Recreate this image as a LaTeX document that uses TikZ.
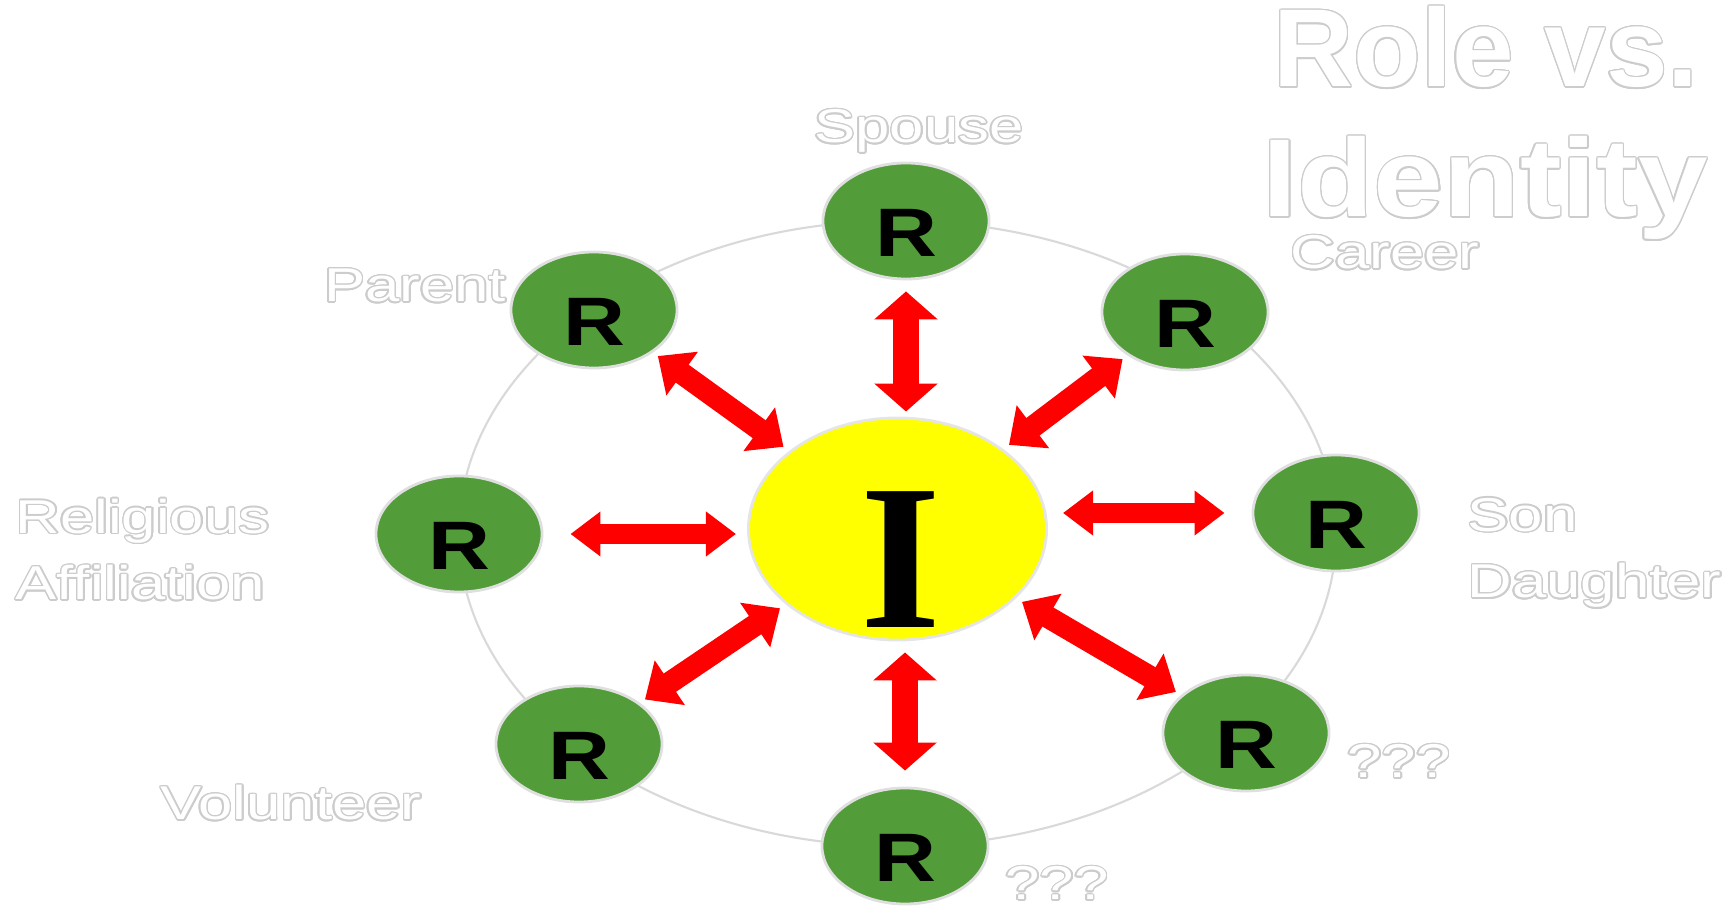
\documentclass[tikz,border=0pt]{standalone}
\usepackage{fontspec}
\setmainfont{Liberation Sans}
\newfontfamily\bigserif{Liberation Serif}
\usepackage{graphicx}
\usepackage{contour}
\contourlength{0.35pt}
\contournumber{20}
\usetikzlibrary{arrows.meta,shapes.geometric,positioning}

\definecolor{rolegreen}{HTML}{529D3A}
\definecolor{selfyellow}{HTML}{FFFF00}
\definecolor{linkred}{HTML}{FF0000}
\newcommand{\ghost}[2][1.3]{\scalebox{#1}[1]{\contour{gray!40}{#2}}}

\begin{document}
\begin{tikzpicture}[x=0.01cm, y=-0.01cm,
        role/.style = {ellipse, draw=gray!25, line width=0.8pt, fill=rolegreen, minimum width=1.66cm, minimum height=1.16cm, inner sep=0pt, font=\fontsize{19.5}{20}\selectfont\bfseries, text height=0.71cm, text depth=0pt},
        self/.style = {ellipse, draw=gray!20, line width=0.8pt, fill=selfyellow, minimum width=2.98cm, minimum height=2.22cm, inner sep=0pt},
        tag/.style = {text=white, inner sep=0pt, anchor=base, font=\fontsize{13.5}{19}\selectfont},
        headline/.style = {text=white, inner sep=0pt, anchor=base west, font=\fontsize{31.5}{36}\selectfont\bfseries},
        ring/.style = {draw=gray!30, line width=0.6pt},
        link/.style = {draw=linkred, line width=0.22cm, {Triangle[width=0.52cm,length=0.3cm]}-{Triangle[width=0.52cm,length=0.3cm]}, shorten <=0.07cm, shorten >=0.06cm},
        vlink/.style = {link, line width=0.26cm, {Triangle[width=0.62cm,length=0.28cm]}-{Triangle[width=0.62cm,length=0.28cm]}, shorten <=0.05cm, shorten >=0.11cm},
        hlink/.style = {link, line width=0.2cm, {Triangle[width=0.43cm,length=0.3cm]}-{Triangle[width=0.43cm,length=0.3cm]}, shorten <=0.12cm, shorten >=0.27cm},
        ]
        \useasboundingbox (0,0) rectangle (1729,907);
        \draw[ring] (897.5,533.5) ellipse [x radius=4.385cm, y radius=3.125cm];

        % identity in the middle
        \node[self](self) at (897.5,529) {};
        \node[anchor=base, inner sep=0pt, font=\fontsize{59}{60}\bigserif\bfseries](letter) at (901,628) {I};

        % roles round it
        \node[role](spouse) at (906,221) {\scalebox{1.25}[1]{R}};
        \node[role](career) at (1185,312) {\scalebox{1.25}[1]{R}};
        \node[role](child) at (1336,513) {\scalebox{1.25}[1]{R}};
        \node[role](otherA) at (1246,733) {\scalebox{1.25}[1]{R}};
        \node[role](otherB) at (905,846) {\scalebox{1.25}[1]{R}};
        \node[role](volunteer) at (579,744) {\scalebox{1.25}[1]{R}};
        \node[role](faith) at (459,534) {\scalebox{1.25}[1]{R}};
        \node[role](parent) at (594,310) {\scalebox{1.25}[1]{R}};

        \draw[vlink] (spouse |- self.north) -- (spouse);
        \draw[link] (self) -- (career);
        \draw[hlink, shorten <=0.15cm] (child -| self.east) -- (child);
        \draw[link] (self) -- (otherA);
        \draw[vlink, shorten <=0.11cm, shorten >=0.16cm] (otherB |- self.south) -- (otherB);
        \draw[link] (self) -- (volunteer);
        \draw[hlink, shorten <=0.11cm] (faith -| self.west) -- (faith);
        \draw[link] (self) -- (parent);

        % role names
        \node[tag](lspouse) at (919,143) {\ghost{Spouse}};
        \node[tag](lparent) at (415,302) {\ghost{Parent}};
        \node[tag](lcareer) at (1385,269) {\ghost{Career}};
        \node[tag, anchor=base west, align=left](lfaith) at (15,600) {\ghost{Religious}\\\ghost{Affiliation}};
        \node[tag, anchor=base west, align=left](lchild) at (1467,598) {\ghost{Son}\\\ghost{Daughter}};
        \node[tag](lvolunteer) at (291,820) {\ghost{Volunteer}};
        \node[tag](lotherA) at (1399,778) {\ghost{???}};
        \node[tag](lotherB) at (1057,900) {\ghost{???}};

        % title
        \node[headline](title1) at (1273,87) {\ghost[1]{Role vs.}};
        \node[headline](title2) at (1262,217) {\ghost[1.13]{Identity}};
\end{tikzpicture}
\end{document}
